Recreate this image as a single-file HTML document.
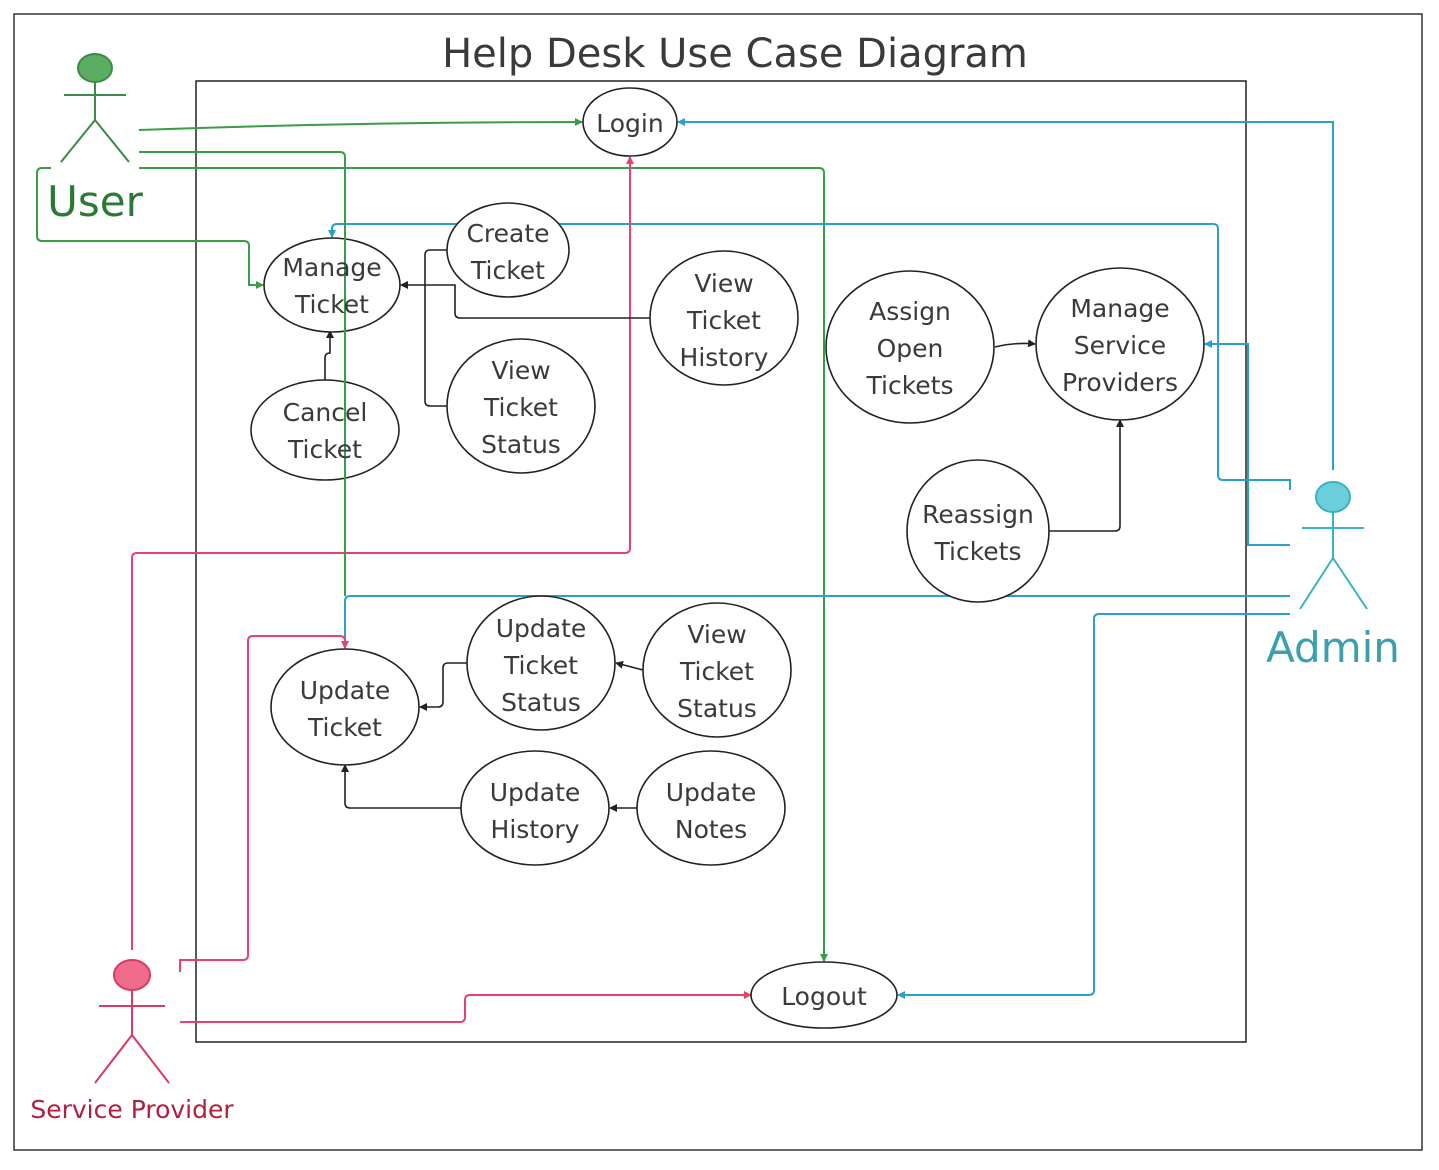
<!DOCTYPE html>
<html><head><meta charset="utf-8"><style>
html,body{margin:0;padding:0;background:#fff}
svg{display:block}
text{font-family:"DejaVu Sans","Liberation Sans",sans-serif;fill:#3a3a3a}
</style></head><body>
<svg width="1439" height="1170" viewBox="0 0 1439 1170" xmlns="http://www.w3.org/2000/svg">
<defs>
<marker id="ak" markerWidth="8" markerHeight="8" refX="7" refY="4" orient="auto" markerUnits="userSpaceOnUse"><path d="M0,0 L8,4 L0,8z" fill="#222"/></marker>
<marker id="ag" markerWidth="8" markerHeight="8" refX="7" refY="4" orient="auto" markerUnits="userSpaceOnUse"><path d="M0,0 L8,4 L0,8z" fill="#3a9c48"/></marker>
<marker id="ab" markerWidth="8" markerHeight="8" refX="7" refY="4" orient="auto" markerUnits="userSpaceOnUse"><path d="M0,0 L8,4 L0,8z" fill="#2aa0cc"/></marker>
<marker id="ap" markerWidth="8" markerHeight="8" refX="7" refY="4" orient="auto" markerUnits="userSpaceOnUse"><path d="M0,0 L8,4 L0,8z" fill="#e8416e"/></marker>
</defs>
<rect x="14" y="14" width="1408" height="1136" fill="none" stroke="#333" stroke-width="1.5"/>
<rect x="196" y="81" width="1050" height="961" fill="none" stroke="#222" stroke-width="1.5"/>
<text x="735" y="67" font-size="40" text-anchor="middle">Help Desk Use Case Diagram</text>

<g stroke="#3a8a48" stroke-width="2" fill="none">
<ellipse cx="95" cy="68" rx="17" ry="14" fill="#5aad63"/>
<line x1="95" y1="82" x2="95" y2="120"/><line x1="64" y1="95" x2="126" y2="95"/>
<line x1="95" y1="120" x2="61" y2="162"/><line x1="95" y1="120" x2="129" y2="162"/>
</g>
<text x="95" y="216" font-size="42" text-anchor="middle" style="fill:#2a7a35">User</text>

<g stroke="#3ab0c8" stroke-width="2" fill="none">
<ellipse cx="1333" cy="497" rx="17" ry="15" fill="#6acfda"/>
<line x1="1333" y1="512" x2="1333" y2="558"/><line x1="1302" y1="528" x2="1364" y2="528"/>
<line x1="1333" y1="558" x2="1300" y2="609"/><line x1="1333" y1="558" x2="1367" y2="609"/>
</g>
<text x="1333" y="662" font-size="42" text-anchor="middle" style="fill:#3aa0b0">Admin</text>

<g stroke="#d83a62" stroke-width="2" fill="none">
<ellipse cx="132" cy="975" rx="18" ry="15" fill="#f06c8c"/>
<line x1="132" y1="990" x2="132" y2="1035"/><line x1="99" y1="1006" x2="165" y2="1006"/>
<line x1="132" y1="1035" x2="95" y2="1083"/><line x1="132" y1="1035" x2="169" y2="1083"/>
</g>
<text x="132" y="1118" font-size="25" text-anchor="middle" style="fill:#b0203e">Service Provider</text>

<g stroke="#3a9c48" stroke-width="2" fill="none">
<path d="M139,130 Q360,122 582,122" marker-end="url(#ag)"/>
<path d="M139,168 H819 Q824,168 824,173 V961" marker-end="url(#ag)"/>
<path d="M51,168 H42 Q37,168 37,173 V236 Q37,241 42,241 H244 Q249,241 249,246 V285 H263" marker-end="url(#ag)"/>
</g>
<g stroke="#2aa0cc" stroke-width="2" fill="none">
<path d="M1333,470 V122 H678" marker-end="url(#ab)"/>
<path d="M1290,490 V480 H1223 Q1218,480 1218,475 V229 Q1218,224 1213,224 H337 Q332,224 332,229 V237" marker-end="url(#ab)"/>
<path d="M1290,545 H1248 V344 H1205" marker-end="url(#ab)"/>
<path d="M1290,596 H350 Q345,596 345,601 V648" marker-end="url(#ab)"/>
<path d="M1290,614 H1099 Q1094,614 1094,619 V990 Q1094,995 1089,995 H898" marker-end="url(#ab)"/>
</g>
<g stroke="#e8416e" stroke-width="2" fill="none">
<path d="M132,950 V558 Q132,553 137,553 H625 Q630,553 630,548 V157" marker-end="url(#ap)"/>
<path d="M180,972 V960 H243 Q248,960 248,955 V641 Q248,636 253,636 H340 Q345,636 345,641 V648" marker-end="url(#ap)"/>
<path d="M180,1022 H460 Q465,1022 465,1017 V1000 Q465,995 470,995 H751" marker-end="url(#ap)"/>
</g>
<g stroke="#222" stroke-width="1.6" fill="none">
<path d="M447,250 H430 Q425,250 425,255 V285 H401" marker-end="url(#ak)"/>
<path d="M650,318 H460 Q455,318 455,313 V285 H425"/>
<path d="M447,406 H430 Q425,406 425,401 V285"/>
<path d="M325,380 V358 Q325,353 330,353 V331" marker-end="url(#ak)"/>
<path d="M995,347 Q1015,342 1035,344" marker-end="url(#ak)"/>
<path d="M1049,531 H1115 Q1120,531 1120,526 V420" marker-end="url(#ak)"/>
<path d="M467,663 H448 Q443,663 443,668 V702 Q443,707 438,707 H420" marker-end="url(#ak)"/>
<path d="M643,670 L616,663" marker-end="url(#ak)"/>
<path d="M461,808 H350 Q345,808 345,803 V765" marker-end="url(#ak)"/>
<path d="M637,808 H610" marker-end="url(#ak)"/>
</g>

<g fill="#fff" stroke="#222" stroke-width="1.6">
<ellipse cx="630" cy="122" rx="47" ry="34"/>
<ellipse cx="508" cy="250" rx="61" ry="47"/>
<ellipse cx="332" cy="285" rx="68" ry="47"/>
<ellipse cx="724" cy="318" rx="74" ry="67"/>
<ellipse cx="325" cy="430" rx="74" ry="50"/>
<ellipse cx="521" cy="406" rx="74" ry="67"/>
<ellipse cx="910" cy="347" rx="84" ry="76"/>
<ellipse cx="1120" cy="344" rx="84" ry="76"/>
<ellipse cx="978" cy="531" rx="71" ry="71"/>
<ellipse cx="345" cy="707" rx="74" ry="58"/>
<ellipse cx="541" cy="663" rx="74" ry="67"/>
<ellipse cx="717" cy="670" rx="74" ry="67"/>
<ellipse cx="535" cy="808" rx="74" ry="57"/>
<ellipse cx="711" cy="808" rx="74" ry="57"/>
<ellipse cx="824" cy="995" rx="73" ry="33"/>
</g>
<path d="M139,152 H340 Q345,152 345,157 V596" stroke="#3a9c48" stroke-width="2" fill="none"/>

<g font-size="25" text-anchor="middle">
<text x="630" y="132">Login</text>
<text x="508" y="242">Create</text><text x="508" y="279">Ticket</text>
<text x="332" y="276">Manage</text><text x="332" y="313">Ticket</text>
<text x="724" y="292">View</text><text x="724" y="329">Ticket</text><text x="724" y="366">History</text>
<text x="325" y="421">Cancel</text><text x="325" y="458">Ticket</text>
<text x="521" y="379">View</text><text x="521" y="416">Ticket</text><text x="521" y="453">Status</text>
<text x="910" y="320">Assign</text><text x="910" y="357">Open</text><text x="910" y="394">Tickets</text>
<text x="1120" y="317">Manage</text><text x="1120" y="354">Service</text><text x="1120" y="391">Providers</text>
<text x="978" y="523">Reassign</text><text x="978" y="560">Tickets</text>
<text x="345" y="699">Update</text><text x="345" y="736">Ticket</text>
<text x="541" y="637">Update</text><text x="541" y="674">Ticket</text><text x="541" y="711">Status</text>
<text x="717" y="643">View</text><text x="717" y="680">Ticket</text><text x="717" y="717">Status</text>
<text x="535" y="801">Update</text><text x="535" y="838">History</text>
<text x="711" y="801">Update</text><text x="711" y="838">Notes</text>
<text x="824" y="1005">Logout</text>
</g>
</svg>
</body></html>
